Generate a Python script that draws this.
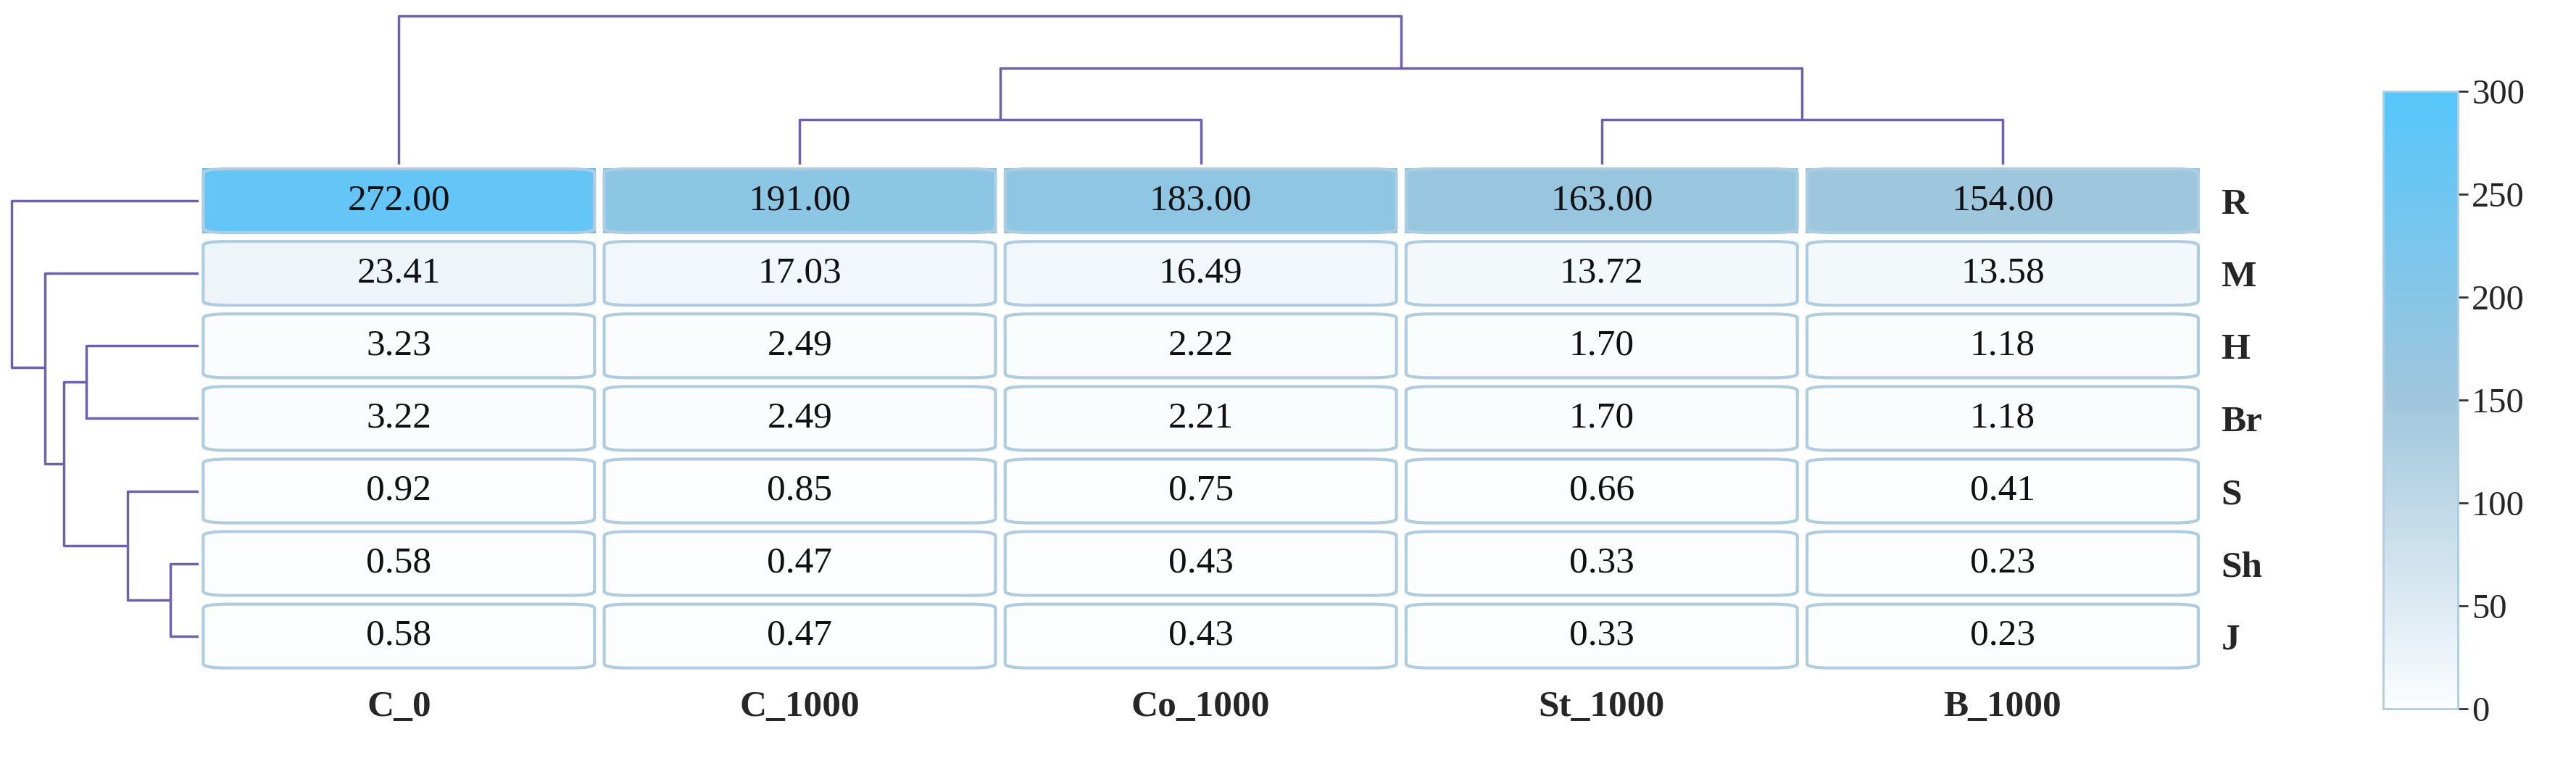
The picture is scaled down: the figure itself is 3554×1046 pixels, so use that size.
import numpy as np, pandas as pd, seaborn as sns
import matplotlib
matplotlib.use("Agg")
import matplotlib.pyplot as plt
from matplotlib.colors import LinearSegmentedColormap
from matplotlib.patches import FancyBboxPatch

cols = ["C_0", "C_1000", "Co_1000", "St_1000", "B_1000"]
rows = ["R", "M", "H", "Br", "S", "Sh", "J"]
R  = [272.00, 191.00, 183.00, 163.00, 154.00]
M  = [23.41, 17.03, 16.49, 13.72, 13.58]
H  = [3.23, 2.49, 2.22, 1.70, 1.18]
Br = [3.22, 2.49, 2.21, 1.70, 1.18]
S  = [0.92, 0.85, 0.75, 0.66, 0.41]
Sh = [0.58, 0.47, 0.43, 0.33, 0.23]
J  = [0.58, 0.47, 0.43, 0.33, 0.23]
df = pd.DataFrame([R, M, H, Br, S, Sh, J], index=rows, columns=cols)

# dendrogram merge heights (relative)
col_h = {"pairs": 0.3, "mid": 0.65, "top": 1.0}
row_h = {"ShJ": 0.15, "S": 0.38, "HBr": 0.6, "HS": 0.72, "M": 0.82, "R": 1.0}

sns.set_theme(style="white")
plt.rcParams["font.family"] = ["Liberation Serif", "DejaVu Serif"]
lc = "#6e5fb0"

fig = plt.figure(figsize=(35.55, 10.46), dpi=100)
cmap = LinearSegmentedColormap.from_list("c", [(0, "#fbfdfe"), (0.5, "#a0c6dc"), (1, "#55c6fc")])

ax = fig.add_axes([0.077, 0.113, 0.778, 0.670])
sns.heatmap(df, ax=ax, cmap=cmap, vmin=0, vmax=300, annot=True, fmt=".2f",
            annot_kws={"fontsize": 37, "color": "#111111"}, cbar=False,
            linewidths=6, linecolor="white")
for i in range(len(rows)):
    for j in range(len(cols)):
        ax.add_patch(FancyBboxPatch((j + 0.012, i + 0.06), 0.976, 0.88,
                     boxstyle="round,pad=0,rounding_size=0.06", fc="none",
                     ec="#aecde2", lw=3))
ax.xaxis.tick_bottom(); ax.yaxis.tick_right()
ax.set_xticklabels(cols, fontsize=37, fontweight="bold", rotation=0)
ax.set_yticklabels(rows, fontsize=37, fontweight="bold", rotation=0)
ax.tick_params(length=0, pad=18)
ax.set_xlabel(""); ax.set_ylabel("")

# column dendrogram
axc = fig.add_axes([0.077, 0.783, 0.778, 0.20])
axc.set_xlim(0, 5); axc.set_ylim(0, 1.02); axc.axis("off")
def U(a, x1, x2, h1, h2, h, horiz=False):
    if horiz:
        a.plot([h1, h, h, h2], [x1, x1, x2, x2], color=lc, lw=2.5)
    else:
        a.plot([x1, x1, x2, x2], [h1, h, h, h2], color=lc, lw=2.5)
p = col_h["pairs"]; m = col_h["mid"]; t = col_h["top"]
U(axc, 1.5, 2.5, 0, 0, p); U(axc, 3.5, 4.5, 0, 0, p)
U(axc, 2.0, 4.0, p, p, m); U(axc, 0.5, 3.0, 0, m, t)

# row dendrogram
axr = fig.add_axes([0.003, 0.113, 0.074, 0.670])
axr.set_ylim(7, 0); axr.set_xlim(1.02, 0); axr.axis("off")
U(axr, 5.5, 6.5, 0, 0, row_h["ShJ"], True)
U(axr, 4.5, 6.0, 0, row_h["ShJ"], row_h["S"], True)
U(axr, 2.5, 3.5, 0, 0, row_h["HBr"], True)
U(axr, 3.0, 5.25, row_h["HBr"], row_h["S"], row_h["HS"], True)
U(axr, 1.5, 4.125, 0, row_h["HS"], row_h["M"], True)
U(axr, 0.5, 2.8, 0, row_h["M"], row_h["R"], True)

# colorbar
cax = fig.add_axes([0.925, 0.065, 0.029, 0.815])
sm = plt.cm.ScalarMappable(cmap=cmap, norm=plt.Normalize(0, 300))
cb = fig.colorbar(sm, cax=cax, ticks=[0, 50, 100, 150, 200, 250, 300])
cb.outline.set_edgecolor("#aecde2"); cb.outline.set_linewidth(2)
cax.tick_params(labelsize=35, length=10, width=2, color="#333333")
fig.savefig("out.png", dpi=100)
